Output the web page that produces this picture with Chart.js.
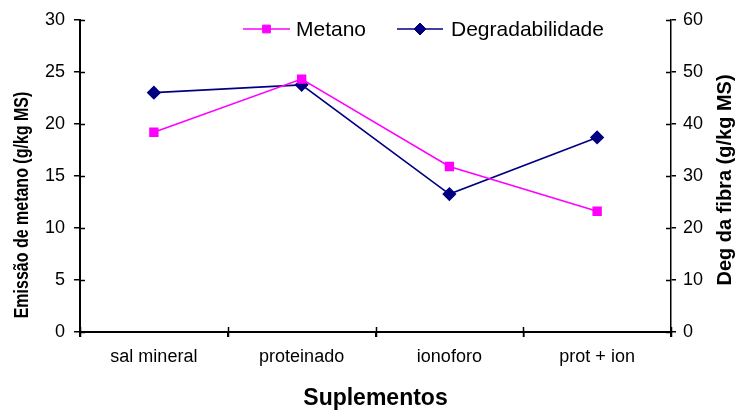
<!DOCTYPE html>
<html>
<head>
<meta charset="utf-8">
<script src="https://cdn.jsdelivr.net/npm/chart.js@4.4.1/dist/chart.umd.min.js"></script>
<style>
  html, body { margin: 0; padding: 0; background: #fff; }
  #wrap { width: 735px; height: 412px; }
</style>
</head>
<body>
<div id="wrap"><canvas id="grafico" width="735" height="412"></canvas></div>
<script>
'use strict';

// dati
const categorie = ['sal mineral', 'proteinado', 'ionoforo', 'prot + ion'];
const metano = [19.2, 24.3, 15.9, 11.6];
const degradabilidade = [46.0, 47.5, 26.5, 37.4];
const ticksSx = [0, 5, 10, 15, 20, 25, 30];
const ticksDx = [0, 10, 20, 30, 40, 50, 60];
const titoloSx = 'Emissão de metano (g/kg MS)';
const titoloDx = 'Deg da fibra (g/kg MS)';

const FONT = "'Liberation Sans', Arial, sans-serif";

// tacche che attraversano l'asse (stile Excel): disegno la metà interna
const tacchePlugin = {
  id: 'tacche',
  afterDraw(chart) {
    const ctx = chart.ctx;
    const a = chart.chartArea;
    ctx.save();
    ctx.strokeStyle = '#000';
    ctx.lineWidth = 1.5;
    ctx.beginPath();
    const y1 = chart.scales.y1, y2 = chart.scales.y2;
    y1.ticks.forEach((t, i) => {
      const py = Math.round(y1.getPixelForTick(i)) + 0.5;
      ctx.moveTo(a.left, py); ctx.lineTo(a.left + 5, py);
    });
    y2.ticks.forEach((t, i) => {
      const py = Math.round(y2.getPixelForTick(i)) + 0.5;
      ctx.moveTo(a.right - 5, py); ctx.lineTo(a.right, py);
    });
    for (let i = 0; i <= categorie.length; i++) {
      const px = Math.round(a.left + (a.right - a.left) * i / categorie.length) + 0.5;
      ctx.moveTo(px, a.bottom - 5); ctx.lineTo(px, a.bottom + 5);
    }
    ctx.stroke();
    ctx.restore();
  }
};

// titoli verticali, entrambi letti dal basso verso l'alto
const titoliPlugin = {
  id: 'titoli',
  afterDraw(chart) {
    const ctx = chart.ctx;
    const vert = (txt, x, y, size, sx) => {
      ctx.save();
      ctx.translate(x, y);
      ctx.scale(sx, 1);
      ctx.rotate(-Math.PI / 2);
      ctx.fillStyle = '#000';
      ctx.font = 'bold ' + size + 'px ' + FONT;
      ctx.textAlign = 'center';
      ctx.textBaseline = 'middle';
      ctx.fillText(txt, 0, 0);
      ctx.restore();
    };
    vert(titoloSx, 22, 205, 16, 1.25);
    vert(titoloDx, 725, 180, 20, 1);
  }
};

// legenda interna con linea + marcatore
const legendaPlugin = {
  id: 'legenda',
  afterDraw(chart) {
    const ctx = chart.ctx;
    const items = [
      { ds: chart.data.datasets[0], x0: 243, x1: 290, tx: 296 },
      { ds: chart.data.datasets[1], x0: 397, x1: 443, tx: 451 }
    ];
    const y = 29;
    items.forEach(it => {
      ctx.save();
      ctx.strokeStyle = it.ds.borderColor;
      ctx.lineWidth = it.ds.borderWidth;
      ctx.beginPath();
      ctx.moveTo(it.x0, y); ctx.lineTo(it.x1, y);
      ctx.stroke();
      ctx.fillStyle = it.ds.pointBackgroundColor;
      ctx.strokeStyle = it.ds.pointBorderColor;
      ctx.lineWidth = 1;
      Chart.helpers.drawPoint(ctx, {
        pointStyle: it.ds.pointStyle, radius: it.ds.pointRadius, borderWidth: 1
      }, (it.x0 + it.x1) / 2, y);
      ctx.fillStyle = '#000';
      ctx.font = '21px ' + FONT;
      ctx.textBaseline = 'middle';
      ctx.fillText(it.ds.label, it.tx, y + 1);
      ctx.restore();
    });
  }
};

const ctx = document.getElementById('grafico').getContext('2d');

new Chart(ctx, {
  type: 'line',
  data: {
    labels: categorie,
    datasets: [
      {
        label: 'Metano',
        data: metano,
        yAxisID: 'y1',
        borderColor: '#ff00ff',
        backgroundColor: '#ff00ff',
        pointBackgroundColor: '#ff00ff',
        pointBorderColor: '#ff00ff',
        borderWidth: 1.6,
        pointStyle: 'rect',
        pointRadius: 5.5,
        tension: 0
      },
      {
        label: 'Degradabilidade',
        data: degradabilidade,
        yAxisID: 'y2',
        borderColor: '#000080',
        backgroundColor: '#000080',
        pointBackgroundColor: '#000080',
        pointBorderColor: '#000080',
        borderWidth: 1.6,
        pointStyle: 'rectRot',
        pointRadius: 6,
        tension: 0
      }
    ]
  },
  options: {
    responsive: false,
    animation: false,
    layout: { padding: { top: 17, left: 0, right: 0, bottom: 0 } },
    plugins: {
      legend: { display: false },
      tooltip: { enabled: false }
    },
    scales: {
      x: {
        type: 'category',
        offset: true,
        afterFit: s => { s.height = 80; },
        grid: { offset: true, drawOnChartArea: false, color: '#000', lineWidth: 1.5, tickLength: 5 },
        border: { color: '#000', width: 2 },
        ticks: { color: '#000', font: { family: FONT, size: 18 }, padding: 9, maxRotation: 0 },
        title: {
          display: true, text: 'Suplementos', color: '#000',
          font: { family: FONT, size: 23, weight: 'bold' }, padding: { top: 0, bottom: 0 }
        }
      },
      y1: {
        position: 'left',
        min: 0, max: 30,
        afterBuildTicks: s => { s.ticks = ticksSx.map(v => ({ value: v })); },
        afterFit: s => { s.width = 80; },
        grid: { drawOnChartArea: false, color: '#000', lineWidth: 1.5, tickLength: 6 },
        border: { color: '#000', width: 2 },
        ticks: { color: '#000', font: { family: FONT, size: 18 }, padding: 9 },
        title: { display: false }
      },
      y2: {
        position: 'right',
        min: 0, max: 60,
        afterBuildTicks: s => { s.ticks = ticksDx.map(v => ({ value: v })); },
        afterFit: s => { s.width = 64; },
        grid: { drawOnChartArea: false, color: '#000', lineWidth: 1.5, tickLength: 5 },
        border: { color: '#000', width: 1.5 },
        ticks: { color: '#000', font: { family: FONT, size: 18 }, padding: 7 },
        title: { display: false }
      }
    }
  },
  plugins: [tacchePlugin, titoliPlugin, legendaPlugin]
});
</script>
</body>
</html>
